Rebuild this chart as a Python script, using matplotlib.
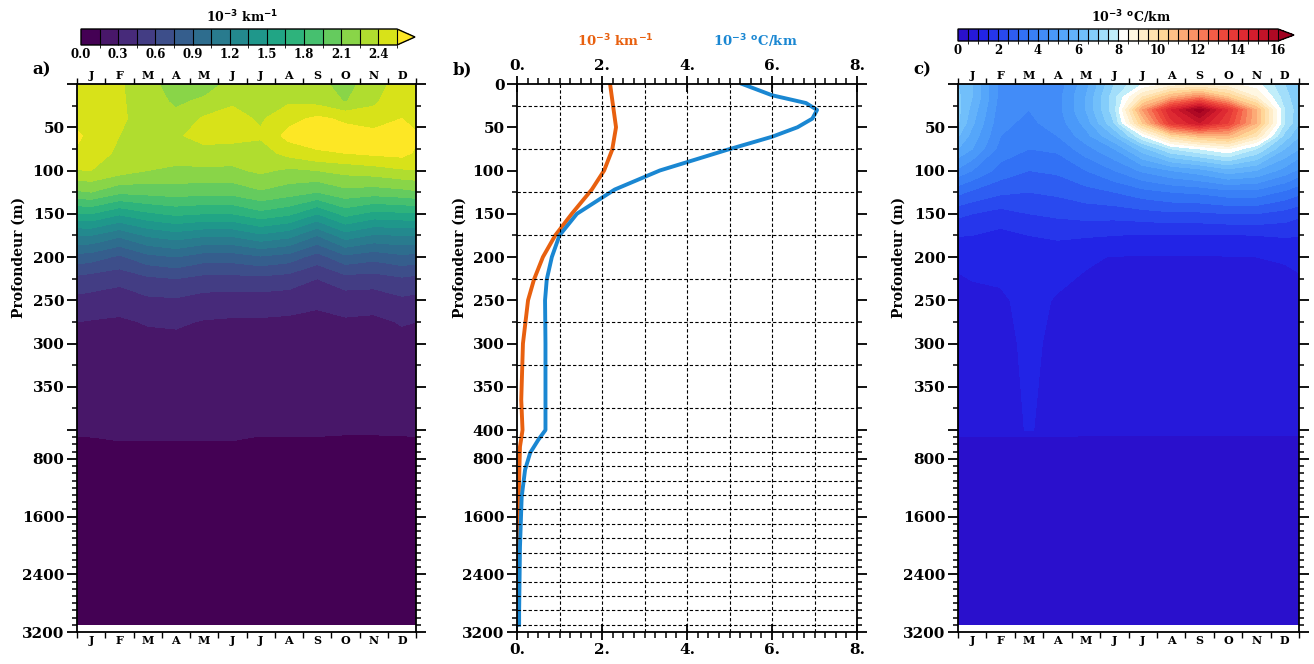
import numpy as np
import matplotlib.pyplot as plt
from matplotlib.colors import BoundaryNorm, ListedColormap, LinearSegmentedColormap
from matplotlib.ticker import FixedLocator, MultipleLocator, FuncFormatter

plt.rcParams['font.family'] = ['DejaVu Serif']
plt.rcParams['font.weight'] = 'bold'

# ---- data ----
months = ['J', 'F', 'M', 'A', 'M', 'J', 'J', 'A', 'S', 'O', 'N', 'D']

# panel a : 10^-3 km^-1, rows = depth, columns = months
depth_a = [0, 20, 40, 60, 80, 100, 125, 150, 175, 200, 225, 250, 275, 300, 400, 500, 800, 3100]
field_a = [
    [2.45, 2.42, 2.30, 2.18, 2.17, 2.30, 2.32, 2.33, 2.30, 2.18, 2.35, 2.45],
    [2.45, 2.42, 2.33, 2.22, 2.28, 2.38, 2.35, 2.38, 2.35, 2.24, 2.38, 2.48],
    [2.48, 2.42, 2.35, 2.30, 2.42, 2.45, 2.38, 2.50, 2.58, 2.52, 2.45, 2.55],
    [2.52, 2.40, 2.35, 2.38, 2.45, 2.45, 2.42, 2.60, 2.62, 2.62, 2.62, 2.62],
    [2.45, 2.38, 2.32, 2.32, 2.35, 2.33, 2.33, 2.45, 2.53, 2.55, 2.58, 2.60],
    [2.40, 2.32, 2.25, 2.22, 2.22, 2.22, 2.28, 2.22, 2.25, 2.30, 2.33, 2.38],
    [2.10, 1.98, 2.00, 2.02, 2.00, 2.00, 2.08, 2.02, 1.95, 2.05, 2.02, 2.05],
    [1.65, 1.52, 1.62, 1.68, 1.65, 1.65, 1.75, 1.68, 1.50, 1.70, 1.60, 1.62],
    [1.20, 1.08, 1.22, 1.28, 1.22, 1.22, 1.32, 1.25, 1.05, 1.28, 1.18, 1.20],
    [0.82, 0.72, 0.85, 0.90, 0.82, 0.82, 0.88, 0.83, 0.68, 0.86, 0.80, 0.86],
    [0.53, 0.50, 0.57, 0.60, 0.55, 0.55, 0.56, 0.53, 0.45, 0.54, 0.53, 0.58],
    [0.40, 0.36, 0.42, 0.43, 0.39, 0.38, 0.38, 0.37, 0.33, 0.37, 0.36, 0.42],
    [0.29, 0.28, 0.31, 0.32, 0.29, 0.28, 0.28, 0.27, 0.26, 0.28, 0.27, 0.31],
    [0.25, 0.25, 0.26, 0.26, 0.25, 0.25, 0.25, 0.24, 0.23, 0.24, 0.24, 0.26],
    [0.19, 0.18, 0.18, 0.18, 0.18, 0.18, 0.19, 0.19, 0.19, 0.19, 0.19, 0.19],
    [0.149, 0.16, 0.16, 0.16, 0.16, 0.16, 0.145, 0.145, 0.145, 0.13, 0.13, 0.14],
    [0.10, 0.10, 0.10, 0.10, 0.10, 0.10, 0.10, 0.10, 0.10, 0.10, 0.10, 0.10],
    [0.03, 0.03, 0.03, 0.03, 0.03, 0.03, 0.03, 0.03, 0.03, 0.03, 0.03, 0.03],
]

# panel c : 10^-3 degC/km
depth_c = [0, 15, 30, 45, 60, 75, 100, 125, 150, 175, 200, 250, 300, 400, 500, 800, 3100]
field_c = [
    [6.0, 4.3, 4.0, 4.2, 5.3, 7.0, 8.0, 8.6, 8.7, 8.6, 8.2, 7.0],
    [6.0, 4.3, 4.0, 4.3, 5.5, 7.3, 9.5, 11.0, 12.0, 10.5, 9.0, 7.2],
    [5.8, 4.2, 4.0, 4.3, 5.5, 7.3, 11.5, 14.5, 16.3, 14.0, 11.0, 7.5],
    [5.6, 4.1, 3.9, 4.2, 5.2, 7.0, 10.5, 13.8, 15.0, 13.5, 11.0, 7.5],
    [5.3, 4.0, 3.8, 4.0, 4.8, 6.0, 8.0, 10.0, 10.8, 11.0, 9.5, 6.8],
    [5.0, 3.8, 3.5, 3.6, 4.3, 5.0, 6.3, 7.5, 8.0, 8.5, 7.5, 6.0],
    [4.0, 3.3, 3.0, 3.1, 3.5, 4.0, 4.6, 5.0, 5.3, 5.8, 5.5, 4.8],
    [2.9, 2.6, 2.5, 2.6, 2.8, 3.0, 3.3, 3.5, 3.6, 3.8, 3.8, 3.4],
    [2.0, 1.8, 2.0, 2.1, 2.2, 2.2, 2.3, 2.4, 2.4, 2.5, 2.5, 2.3],
    [1.50, 1.35, 1.50, 1.60, 1.55, 1.50, 1.45, 1.45, 1.45, 1.45, 1.50, 1.55],
    [1.10, 1.12, 1.20, 1.15, 1.05, 0.98, 0.97, 0.97, 0.97, 0.98, 1.00, 1.03],
    [0.92, 0.95, 1.10, 0.97, 0.88, 0.85, 0.85, 0.85, 0.85, 0.85, 0.85, 0.85],
    [0.85, 0.90, 1.07, 0.92, 0.80, 0.80, 0.80, 0.80, 0.80, 0.80, 0.80, 0.80],
    [0.80, 0.85, 1.03, 0.85, 0.72, 0.70, 0.70, 0.70, 0.70, 0.70, 0.70, 0.70],
    [0.45, 0.45, 0.45, 0.45, 0.45, 0.45, 0.45, 0.45, 0.45, 0.45, 0.45, 0.45],
    [0.30, 0.30, 0.30, 0.30, 0.30, 0.30, 0.30, 0.30, 0.30, 0.30, 0.30, 0.30],
    [0.10, 0.10, 0.10, 0.10, 0.10, 0.10, 0.10, 0.10, 0.10, 0.10, 0.10, 0.10],
]

# panel b : mean profiles
orange_depth = [0, 18, 50, 76, 100, 122, 150, 175, 200, 226, 250, 300, 365, 400, 480, 630, 1550, 3100]
orange_val = [2.19, 2.24, 2.33, 2.24, 2.05, 1.76, 1.29, 0.90, 0.61, 0.40, 0.26, 0.14, 0.10, 0.13, 0.11, 0.07, 0.03, 0.0]
blue_depth = [0, 13, 22, 30, 40, 50, 61, 76, 100, 122, 150, 175, 200, 226, 250, 300, 400, 537, 717, 951, 1327, 2020, 2930, 3100]
blue_val = [5.30, 6.00, 6.80, 7.06, 6.95, 6.60, 6.00, 4.95, 3.36, 2.30, 1.41, 1.00, 0.82, 0.70, 0.66, 0.67, 0.67, 0.50, 0.31, 0.19, 0.11, 0.07, 0.05, 0.05]

levels_a = np.arange(0, 2.56, 0.15)
levels_c = np.arange(0, 16.1, 0.5)

# ---- depth axis: linear 0-400, compressed below ----
K = 0.0834
def fwd(d):
    d = np.asarray(d, dtype=float)
    return np.where(d <= 400, d, 400 + (d - 400) * K)

def inv(p):
    p = np.asarray(p, dtype=float)
    return np.where(p <= 400, p, 400 + (p - 400) / K)

major_y = [0, 50, 100, 150, 200, 250, 300, 350, 400, 800, 1600, 2400, 3200]
minor_y = list(range(25, 400, 25)) + list(range(500, 3200, 100))

def depth_axis(ax, lab_x, show0=False):
    ax.set_yscale('function', functions=(fwd, inv))
    ax.set_ylim(3200, 0)
    ax.yaxis.set_major_locator(FixedLocator(major_y))
    ax.yaxis.set_minor_locator(FixedLocator(minor_y))
    def fmt(v, pos):
        if (v == 0 or v == 400) and not show0:
            return ''
        return '%d' % v
    ax.yaxis.set_major_formatter(FuncFormatter(fmt))
    ax.tick_params(axis='y', which='major', direction='out', length=7, width=1.3,
                   labelsize=11, left=True, right=True, pad=2)
    ax.tick_params(axis='y', which='minor', direction='out', length=3.5, width=1.1,
                   left=True, right=True)
    ax.set_ylabel('Profondeur (m)', fontsize=10, fontweight='bold')
    ax.yaxis.set_label_coords(lab_x, 0.684)

def month_axis(ax):
    ax.set_xlim(0, 12)
    ax.set_xticks(np.arange(0, 13))
    ax.set_xticklabels([])
    ax.set_xticks(np.arange(12) + 0.5, minor=True)
    ax.set_xticklabels(months, minor=True)
    ax.tick_params(axis='x', which='major', direction='out', length=4, width=1,
                   top=True, bottom=True)
    ax.tick_params(axis='x', which='minor', length=0, labelsize=8, pad=2,
                   top=True, bottom=True, labeltop=True, labelbottom=True)

def cyclic(field):
    f = np.array(field, dtype=float)
    return np.column_stack([f[:, -1], f, f[:, 0]])

xc = np.arange(-0.5, 13.0, 1.0)

fig = plt.figure(figsize=(13.14, 6.64), dpi=100)
H = 664.0
W = 1314.0
def pos(l, r, t, b):
    return [l / W, 1 - b / H, (r - l) / W, (b - t) / H]

# ---- panel a ----
axa = fig.add_axes(pos(77, 416, 84, 632))
cols_a = plt.get_cmap('viridis')(np.linspace(0, 1, len(levels_a)))
cmap_a = ListedColormap(cols_a[:-1])
cmap_a.set_over(cols_a[-1])
norm_a = BoundaryNorm(levels_a, cmap_a.N)
cfa = axa.contourf(xc, depth_a, cyclic(field_a), levels=levels_a, cmap=cmap_a,
                   norm=norm_a, extend='max')
depth_axis(axa, -0.152)
month_axis(axa)
for s in axa.spines.values():
    s.set_linewidth(1.3)
fig.text(32 / W, 1 - 70 / H, 'a)', fontsize=12, fontweight='bold', va='center')

caxa = fig.add_axes(pos(81, 415, 29, 45))
cba = fig.colorbar(cfa, cax=caxa, orientation='horizontal', drawedges=True,
                   extendfrac=0.057)
cba.set_ticks(np.arange(0, 2.41, 0.3))
cba.set_ticklabels(['%.1f' % v for v in np.arange(0, 2.41, 0.3)])
caxa.tick_params(length=0, labelsize=8.5, pad=2)
cba.outline.set_linewidth(1)
cba.dividers.set_linewidth(0.8)
fig.text(242 / W, 1 - 17 / H, r'10$^{\mathbf{-3}}$ km$^{\mathbf{-1}}$', fontsize=9,
         fontweight='bold', ha='center', va='center')

# ---- panel b ----
axb = fig.add_axes(pos(517, 857, 84, 632))
axb.plot(orange_val, orange_depth, color='#e8600f', lw=2.8)
axb.plot(blue_val, blue_depth, color='#1a87d2', lw=2.8)
axb.set_xlim(0, 8)
depth_axis(axb, -0.147, show0=True)
axb.xaxis.set_major_locator(MultipleLocator(2))
axb.xaxis.set_minor_locator(MultipleLocator(0.25))
axb.xaxis.set_major_formatter(FuncFormatter(lambda v, p: '%d.' % v))
axb.tick_params(axis='x', which='major', direction='inout', length=12, width=1.3,
                top=True, bottom=True, labeltop=True, labelbottom=True, labelsize=11, pad=2)
axb.tick_params(axis='x', which='minor', direction='out', length=4, width=1.1,
                top=True, bottom=True)
for xg in range(1, 8):
    axb.axvline(xg, color='black', ls=(0, (3, 2)), lw=0.8)
for yg in list(range(25, 400, 50)) + list(range(500, 3200, 200)):
    axb.axhline(yg, color='black', ls=(0, (3, 2)), lw=0.8)
for s in axb.spines.values():
    s.set_linewidth(1.3)
fig.text(453 / W, 1 - 70 / H, 'b)', fontsize=12, fontweight='bold', va='center')
fig.text(615 / W, 1 - 41 / H, r'10$^{\mathbf{-3}}$ km$^{\mathbf{-1}}$', color='#e8600f',
         fontsize=9.5, fontweight='bold', ha='center', va='center')
fig.text(755 / W, 1 - 41 / H, r'10$^{\mathbf{-3}}$ $^{\mathbf{o}}$C/km', color='#1a87d2',
         fontsize=9.5, fontweight='bold', ha='center', va='center')

# ---- panel c ----
axc = fig.add_axes(pos(958, 1299, 84, 632))
anchors = [(0.0, '#2a10cc'), (0.06, '#2222e6'), (0.13, '#2a4cf0'), (0.2, '#3478f6'),
           (0.3, '#4fa0fa'), (0.4, '#7cc9fa'), (0.47, '#c0eefa'), (0.5, '#ffffff'),
           (0.55, '#fff3d4'), (0.63, '#ffd596'), (0.71, '#fb9c6c'), (0.8, '#f2503f'),
           (0.9, '#d8202e'), (1.0, '#a00020')]
base_c = LinearSegmentedColormap.from_list('bwr_ncl', anchors)
cols_c = base_c(np.linspace(0, 1, len(levels_c)))
cmap_c = ListedColormap(cols_c[:-1])
cmap_c.set_over(cols_c[-1])
norm_c = BoundaryNorm(levels_c, cmap_c.N)
cfc = axc.contourf(xc, depth_c, cyclic(field_c), levels=levels_c, cmap=cmap_c,
                   norm=norm_c, extend='max')
depth_axis(axc, -0.152)
month_axis(axc)
for s in axc.spines.values():
    s.set_linewidth(1.3)
fig.text(913 / W, 1 - 70 / H, 'c)', fontsize=12, fontweight='bold', va='center')

caxc = fig.add_axes(pos(958, 1294, 29, 41))
cbc = fig.colorbar(cfc, cax=caxc, orientation='horizontal', drawedges=True,
                   extendfrac=0.05)
cbc.set_ticks(np.arange(0, 16.1, 2))
cbc.set_ticklabels(['%d' % v for v in np.arange(0, 16.1, 2)])
caxc.tick_params(length=0, labelsize=8.5, pad=2)
cbc.outline.set_linewidth(1)
cbc.dividers.set_linewidth(0.8)
fig.text(1131 / W, 1 - 17 / H, r'10$^{\mathbf{-3}}$ $^{\mathbf{o}}$C/km', fontsize=9,
         fontweight='bold', ha='center', va='center')

fig.savefig('out.png', dpi=100)
